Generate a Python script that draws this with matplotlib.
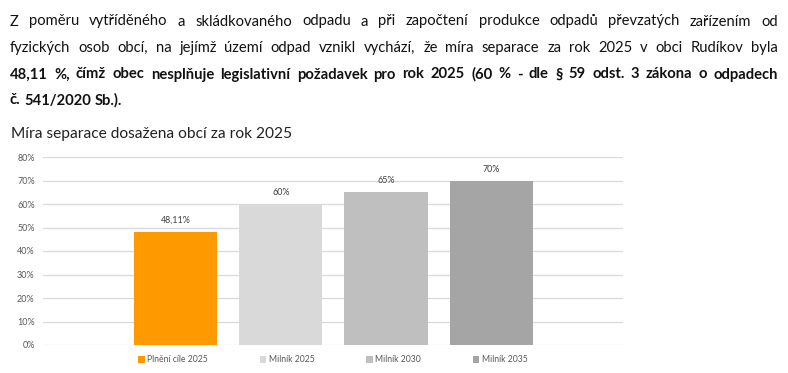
import matplotlib
matplotlib.use("Agg")
import matplotlib.pyplot as plt
from matplotlib.ticker import FuncFormatter

plt.rcParams['font.family'] = ['Lato', 'DejaVu Sans']

# ---- data ----
series_names = ["Plnění cíle 2025", "Milník 2025", "Milník 2030", "Milník 2035"]
values = [48.11, 60, 65, 70]
value_labels = ["48,11%", "60%", "65%", "70%"]
colors = ["#FF9900", "#D9D9D9", "#BFBFBF", "#A5A5A5"]
y_ticks = [0, 10, 20, 30, 40, 50, 60, 70, 80]

title = "Míra separace dosažena obcí za rok 2025"
para_lines = [
    ("Z poměru vytříděného a skládkovaného odpadu a při započtení produkce odpadů převzatých zařízením od", "normal", True),
    ("fyzických osob obcí, na jejímž území odpad vznikl vychází, že míra separace za rok 2025 v obci Rudíkov byla", "normal", True),
    ("48,11 %, čímž obec nesplňuje legislativní požadavek pro rok 2025 (60 % - dle § 59 odst. 3 zákona o odpadech", "bold", True),
    ("č. 541/2020 Sb.).", "bold", False),
]

W, H = 788, 373
fig = plt.figure(figsize=(W / 100, H / 100), dpi=100)
fig.patch.set_facecolor("white")

# ---- justified paragraph ----
renderer = fig.canvas.get_renderer()
x0, x1 = 10, 778
baselines = [25.5, 52, 78.5, 104.5]
for (line, weight, justify), yb in zip(para_lines, baselines):
    words = line.split(" ")
    objs = []
    for w in words:
        t = fig.text(0, 1 - yb / H, w, fontsize=10.6, fontweight=weight,
                     color="#111111", va="baseline", ha="left")
        objs.append(t)
    widths = [t.get_window_extent(renderer).width for t in objs]
    if justify and len(words) > 1:
        gap = (x1 - x0 - sum(widths)) / (len(words) - 1)
    else:
        gap = 3.8
    x = x0
    for t, wd in zip(objs, widths):
        t.set_x(x / W)
        x += wd + gap

fig.text(11 / W, 1 - 138 / H, title, fontsize=11.2, color="#222222",
         va="baseline", ha="left")

# ---- chart ----
left, right = 43, 623
bottom_px, top_px = 345, 157
ax = fig.add_axes([left / W, (H - bottom_px) / H, (right - left) / W,
                   (bottom_px - top_px) / H])
positions = list(range(len(values)))
for i, (v, c, n) in enumerate(zip(values, colors, series_names)):
    b = ax.bar(positions[i], v, width=0.79, color=c, label=n, zorder=3)
    ax.bar_label(b, labels=[value_labels[i]], padding=5, fontsize=6.4,
                 color="#404040")

ax.set_xlim(-1.258, 4.25)
ax.set_ylim(0, 80)
ax.set_yticks(y_ticks)
ax.yaxis.set_major_formatter(FuncFormatter(lambda v, p: f"{int(v)}%"))
ax.tick_params(axis="y", length=0, pad=6, labelsize=6.5, labelcolor="#595959")
ax.set_xticks([])
ax.grid(axis="y", color="#D9D9D9", linewidth=0.9, zorder=0)
for s in ax.spines.values():
    s.set_visible(False)

leg = ax.legend(loc="center", bbox_to_anchor=(0.5, -(360 - bottom_px) / (bottom_px - top_px)),
                ncol=4, frameon=False, fontsize=6.2, handlelength=0.75,
                handleheight=0.75, handletextpad=0.3, columnspacing=6.0,
                borderaxespad=0)
for t in leg.get_texts():
    t.set_color("#595959")

fig.savefig("out.png", dpi=100, facecolor="white")
